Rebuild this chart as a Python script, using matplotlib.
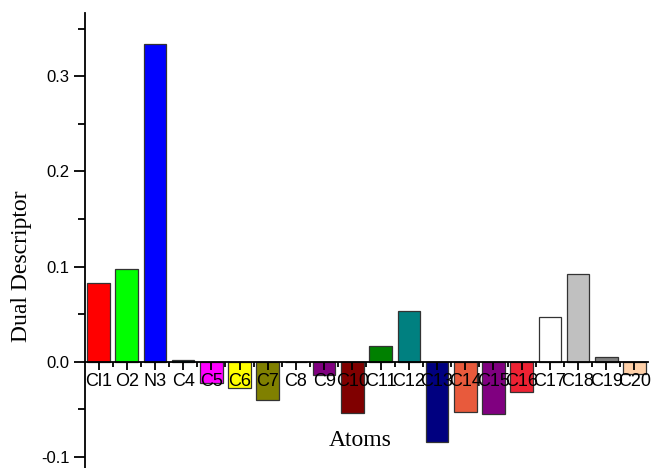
import matplotlib
matplotlib.use("Agg")
import matplotlib.pyplot as plt
from matplotlib.ticker import MultipleLocator, FixedLocator
import numpy as np

atoms = ["Cl1", "O2", "N3", "C4", "C5", "C6", "C7", "C8", "C9", "C10",
         "C11", "C12", "C13", "C14", "C15", "C16", "C17", "C18", "C19", "C20"]
dual_descriptor = [0.0824, 0.0976, 0.3340, 0.0020, -0.0220, -0.0270, -0.0400,
                   0.0000, -0.0135, -0.0535, 0.0165, 0.0534, -0.0837, -0.0530,
                   -0.0550, -0.0320, 0.0470, 0.0925, 0.0053, -0.0127]
bar_colors = ["#FF0000", "#00FF00", "#0000FF", "#008080", "#FF00FF", "#FFFF00",
              "#808000", "#000080", "#800080", "#800000", "#008000", "#008080",
              "#000080", "#E85A3C", "#800080", "#EE2233", "#FFFFFF", "#C0C0C0",
              "#808080", "#FFD0A8"]

W, H = 654, 468
fig = plt.figure(figsize=(W / 100, H / 100), dpi=100)
ax = fig.add_axes([85 / W, 0.0, (648 - 85) / W, 1 - 13 / H])

x = np.arange(1, len(atoms) + 1)
ax.bar(x, dual_descriptor, width=0.8, color=bar_colors,
       edgecolor="#333333", linewidth=0.9, zorder=1)
# axis, ticks and tick labels are drawn over the bars
ax.set_axisbelow(False)

ax.set_xlim(0.52, 20.48)
ax.set_ylim(-0.1115, 0.3665)

# spines: left axis plus a horizontal axis through zero
for s in ("top", "right"):
    ax.spines[s].set_visible(False)
ax.spines["bottom"].set_position(("data", 0))
ax.spines["left"].set_linewidth(1.3)
ax.spines["bottom"].set_linewidth(1.3)
ax.spines["bottom"].set_zorder(3)

ax.yaxis.set_major_locator(MultipleLocator(0.1))
ax.yaxis.set_minor_locator(MultipleLocator(0.05))
ax.set_yticks([-0.1, 0.0, 0.1, 0.2, 0.3])
ax.set_yticklabels(["-0.1", "0.0", "0.1", "0.2", "0.3"],
                   fontfamily="Liberation Sans", fontsize=12)
ax.tick_params(axis="y", which="major", direction="out", length=8, width=1.3, pad=3)
ax.tick_params(axis="y", which="minor", direction="out", length=5, width=1.3)

ax.set_xticks(x)
ax.set_xticklabels(atoms, fontfamily="Liberation Sans", fontsize=13)
ax.xaxis.set_minor_locator(FixedLocator(np.arange(1.5, 21, 1.0)))
ax.tick_params(axis="x", which="major", direction="out", length=6, width=1.3, pad=2)
ax.tick_params(axis="x", which="minor", direction="out", length=3.5, width=1.3)

fig.text(22 / W, 1 - 266 / H, "Dual Descriptor", rotation=90,
         ha="center", va="center", fontfamily="Liberation Serif", fontsize=17)
fig.text(360 / W, 1 - 441 / H, "Atoms", ha="center", va="center",
         fontfamily="Liberation Serif", fontsize=17)

fig.savefig("out.png", dpi=100)
